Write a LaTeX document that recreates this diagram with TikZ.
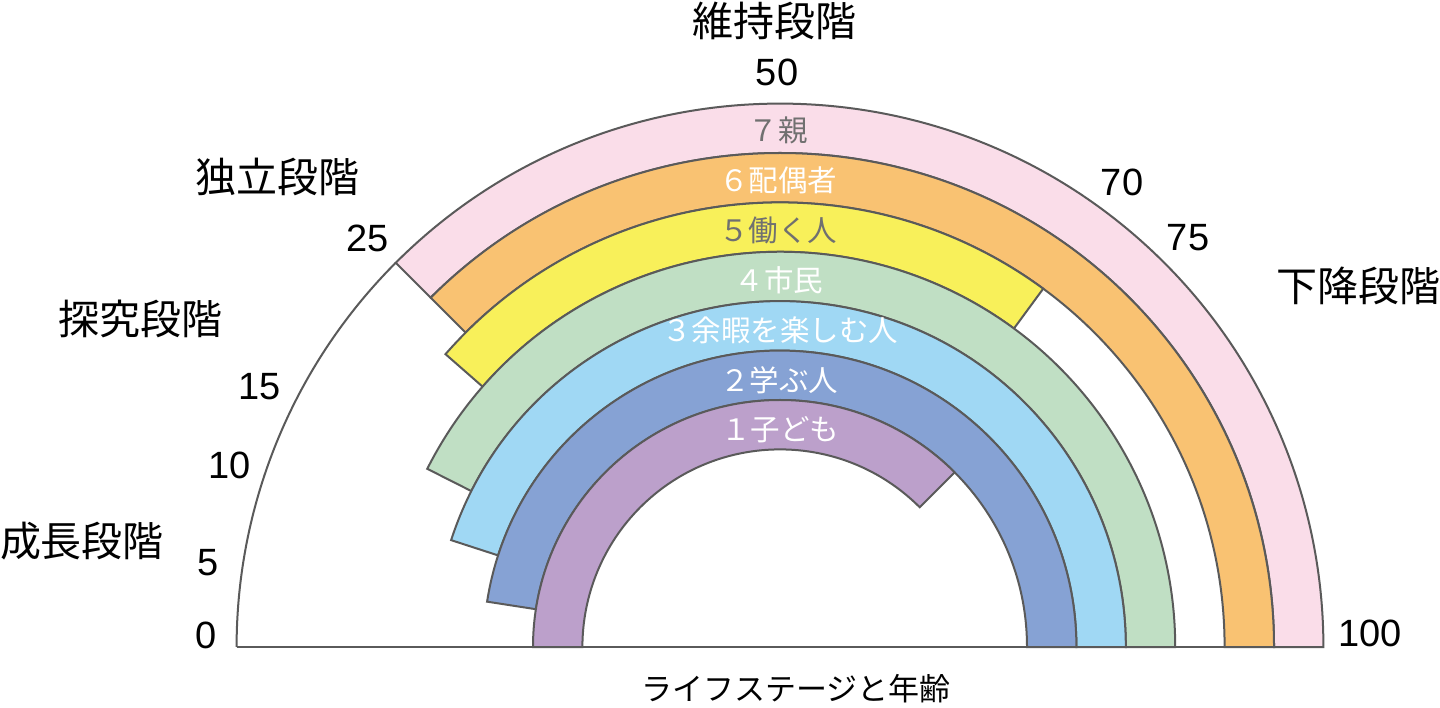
\documentclass[tikz,border=0pt]{standalone}
\usepackage{fontspec}
\newfontfamily\jpfont{Noto Sans CJK JP}
\newfontfamily\numfont{Liberation Sans}
\definecolor{linegray}{HTML}{5A5A5A}
\definecolor{cpink}{HTML}{FADDE9}
\definecolor{corange}{HTML}{F9C272}
\definecolor{cyellow}{HTML}{F8F05A}
\definecolor{cgreen}{HTML}{C0DFC4}
\definecolor{clblue}{HTML}{A0D8F4}
\definecolor{cblue}{HTML}{86A2D4}
\definecolor{cpurple}{HTML}{BCA0CB}
\definecolor{lblgray}{HTML}{707070}
\newcommand{\rbband}[5]{%
  \draw[bandline, fill=#1] (#4:#3) arc[start angle=#4, end angle=#5, radius=#3]
    -- (#5:#2) arc[start angle=#5, end angle=#4, radius=#2] -- cycle;}
\tikzset{
  bandline/.style={draw=linegray, line width=2pt, line join=miter},
  stage/.style={inner sep=0pt, font=\jpfont\fontsize{41}{45}\selectfont},
  agenum/.style={inner sep=0pt, font=\numfont\fontsize{38}{42}\selectfont},
  bandlbl/.style={inner sep=0pt, font=\jpfont\fontsize{29.5}{32}\selectfont, text=white},
  bandlblgray/.style={bandlbl, text=lblgray},
  axislbl/.style={inner sep=0pt, font=\jpfont\fontsize{31}{34}\selectfont}
}
\begin{document}
\begin{tikzpicture}[x=1pt, y=1pt]
\useasboundingbox (0,0) rectangle (1440,707);
\fill[white] (0,0) rectangle (1440,707);
\begin{scope}[shift={(780,60)}]
  % outer outline of the white left region
  \draw[bandline] (180:543.4) arc[start angle=180, end angle=135, radius=543.4];
  % bands: color, inner r, outer r, start angle, end angle
  \rbband{cpink}{494}{543.4}{135}{0}
  \rbband{corange}{444.6}{494}{135}{0}
  \rbband{cyellow}{395.2}{444.6}{138.8}{53.7}
  \rbband{cgreen}{345.8}{395.2}{153.2}{0}
  \rbband{clblue}{296.4}{345.8}{162}{0}
  \rbband{cblue}{247}{296.4}{171.2}{0}
  \rbband{cpurple}{197.6}{247}{180}{45}
  % baseline
  \draw[bandline] (180:543.4) coordinate (bl) -- (0:543.4) coordinate (br);
\end{scope}
% band labels
\node[bandlblgray] (l7) at (778,577) {７親};
\node[bandlbl] (l6) at (778,527) {６配偶者};
\node[bandlblgray] (l5) at (778,477) {５働く人};
\node[bandlbl] (l4) at (779,427) {４市民};
\node[bandlbl] (l3) at (780,377) {３余暇を楽しむ人};
\node[bandlbl] (l2) at (779,327) {２学ぶ人};
\node[bandlbl] (l1) at (780,277) {１子ども};
% stage labels
\node[stage] (s1) at (774,686) {維持段階};
\node[stage] (s2) at (277,530) {独立段階};
\node[stage] (s3) at (140,388) {探究段階};
\node[stage] (s4) at (82,166) {成長段階};
\node[stage] (s5) at (1358,421) {下降段階};
% ages
\node[agenum] (a50) at (777,635) {50};
\node[agenum] (a25) at (368,469) {25};
\node[agenum] (a15) at (260,320) {15};
\node[agenum] (a10) at (230,242) {10};
\node[agenum] (a5) at (208,144) {5};
\node[agenum] (a0) at (206,72) {0};
\node[agenum] (a70) at (1122,524.5) {70};
\node[agenum] (a75) at (1188,469.5) {75};
\node[agenum] (a100) at (1370,74) {100};
% axis label
\node[axislbl] (ax) at (796,18) {ライフステージと年齢};
\end{tikzpicture}
\end{document}
